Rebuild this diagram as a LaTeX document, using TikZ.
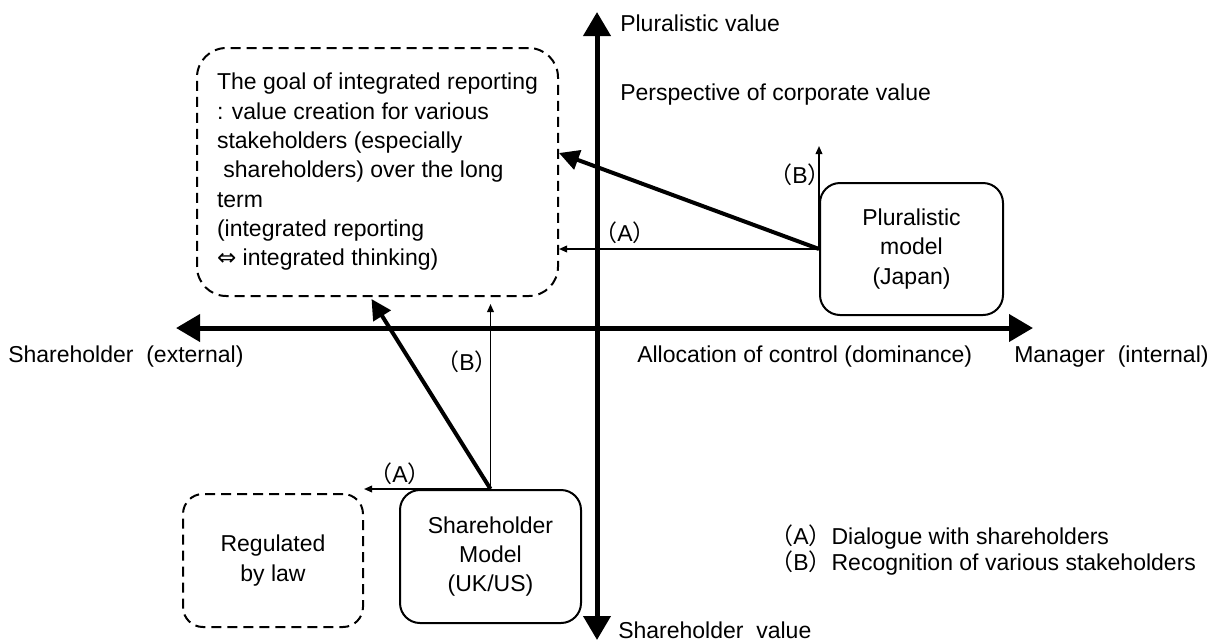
\documentclass[tikz,border=0pt]{standalone}
\usepackage{fontspec}
\setmainfont{Liberation Sans}
\newfontfamily\jpfont{Noto Sans CJK JP}
\newfontfamily\djvfont{DejaVu Sans}
\usetikzlibrary{arrows.meta,calc}
\newcommand{\fwA}{{\jpfont （}A{\jpfont ）}}
\newcommand{\fwB}{{\jpfont （}B{\jpfont ）}}
\begin{document}
\begin{tikzpicture}[x=0.75pt,y=-0.75pt,
  every node/.style={font=\fontsize{17.25}{22}\selectfont, inner sep=0pt},
  box/.style={draw, line width=1.5pt, rounded corners=15pt, align=center},
  dbox/.style={box, dash pattern=on 7.5pt off 4.5pt},
  axis/.style={line width=3.75pt, arrows={Triangle[length=18pt,width=20pt]-Triangle[length=18pt,width=20pt]}},
  bigarrow/.style={line width=3pt, arrows={-Triangle[length=15pt,width=15pt]}},
  thinarrow/.style={line width=1.1pt, arrows={-Triangle[length=6pt,width=5pt]}},
]
\useasboundingbox (0,0) rectangle (1213,643);

% axes
\coordinate (ytop) at (597,12);
\coordinate (ybot) at (597,640);
\coordinate (xleft) at (176,328);
\coordinate (xright) at (1033,328);
\draw[axis] (ybot) -- (ytop);
\draw[axis] (xleft) -- (xright);

% boxes
\node[dbox, rounded corners=22pt, minimum width=270.75pt, minimum height=186pt, align=left] (goal) at (377.5,172)
 {The goal of integrated reporting\\: value creation for various\\stakeholders (especially\\\hspace*{0.278em}shareholders) over the long\\term\\(integrated reporting\\{\djvfont ⇔} integrated thinking)};
\node[box, minimum width=137.25pt, minimum height=99pt] (plural) at (911.5,249) {Pluralistic\\model\\(Japan)};
\node[box, minimum width=135.75pt, minimum height=99.75pt] (share) at (490.5,556.5) {Shareholder\\Model\\(UK/US)};
\node[dbox, minimum width=135pt, minimum height=99.75pt] (reg) at (273,560.5) {Regulated\\by law};

% connectors
\draw[bigarrow] (plural.west) -- ([yshift=14.25pt]goal.east);
\draw[thinarrow] (plural.west) -- (goal.east |- plural.west);
\draw[thinarrow] (plural.west) -- ([yshift=27pt]plural.north west);
\draw[bigarrow] (share.north) -- ([xshift=-4.5pt,yshift=-1.5pt]goal.south);
\draw[thinarrow, shorten >=5.25pt] (share.north) -- (share.north |- goal.south);
\draw[thinarrow] (share.north) -- (reg.east |- share.north);

% connector labels
\node (lA1) at (625,233) {\fwA};
\node (lB1) at (800,175) {\fwB};
\node (lB2) at (467,362) {\fwB};
\node (lA2) at (400,474) {\fwA};

% axis labels
\node[anchor=west] (tPv) at (620,23) {Pluralistic value};
\node[anchor=west] (tPc) at (620,95) {Perspective of corporate value};
\node[anchor=west] (tSe) at (8,357) {Shareholder\ \ (external)};
\node[anchor=west] (tAc) at (637,357) {Allocation of control (dominance)};
\node[anchor=west] (tMi) at (1014,357) {Manager\ \ (internal)};
\node[anchor=west] (tSv) at (618,630) {Shareholder\ \ value};

% legend
\node[anchor=west, align=left, font=\fontsize{17.25}{19.5}\selectfont] (legend) at (770,550)
 {\fwA Dialogue with shareholders\\\fwB Recognition of various stakeholders};
\end{tikzpicture}
\end{document}
